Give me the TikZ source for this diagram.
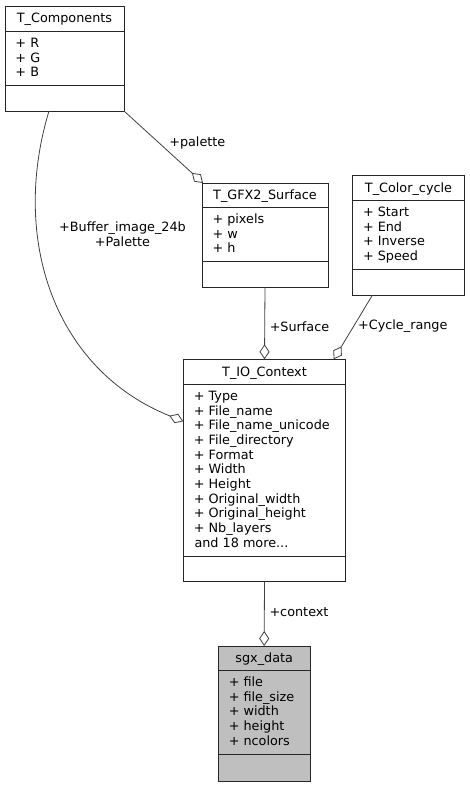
\documentclass[tikz,border=0pt]{standalone}
\usepackage{fontspec}
\setmainfont{DejaVu Sans}
\usetikzlibrary{arrows.meta}
\definecolor{edgegray}{HTML}{404040}
\definecolor{boxgray}{HTML}{BFBFBF}
\tikzset{
  cls/.style={draw=black!85, line width=1pt, anchor=north west, inner sep=0pt, outer sep=0pt},
  sepline/.style={draw=black!85, line width=1pt},
  txt/.style={font=\fontsize{12.8}{14.7}\selectfont, inner sep=0pt, text=black},
  title/.style={txt, anchor=base},
  mem/.style={txt, anchor=base west},
  lbl/.style={txt, align=center},
  assoc/.style={draw=edgegray, line width=0.8pt, -{Diamond[open, length=15pt, width=10pt]}}
}
\begin{document}
\begin{tikzpicture}[x=1pt, y=-1pt]
\useasboundingbox (0,0) rectangle (470,787);

% ---------- T_Components ----------
\node[cls, minimum width=119pt, minimum height=105pt] (comp) at (5,6) {};
\draw[sepline] (5,31) -- (124,31);
\draw[sepline] (5,85.6) -- (124,85.6);
\node[title] (comp-t) at (64.5,23) {T\_Components};
\foreach \t [count=\i from 0] in {+ R, + G, + B}
  \node[mem] (comp-m\i) at (15.3,47.3+\i*14.7) {\t};

% ---------- T_GFX2_Surface ----------
\node[cls, minimum width=126pt, minimum height=104pt] (gfx) at (202,183) {};
\draw[sepline] (202,207) -- (328,207);
\draw[sepline] (202,261.8) -- (328,261.8);
\node[title] (gfx-t) at (265,199.6) {T\_GFX2\_Surface};
\foreach \t [count=\i from 0] in {+ pixels, + w, + h}
  \node[mem] (gfx-m\i) at (212.3,223.3+\i*14.7) {\t};

% ---------- T_Color_cycle ----------
\node[cls, minimum width=112pt, minimum height=120pt] (color) at (352.5,175) {};
\draw[sepline] (352.5,200) -- (464.5,200);
\draw[sepline] (352.5,269.1) -- (464.5,269.1);
\node[title] (color-t) at (408.5,192.1) {T\_Color\_cycle};
\foreach \t [count=\i from 0] in {+ Start, + End, + Inverse, + Speed}
  \node[mem] (color-m\i) at (362.8,216.3+\i*14.7) {\t};

% ---------- T_IO_Context ----------
\node[cls, minimum width=162.4pt, minimum height=222.4pt] (io) at (183.3,359.3) {};
\draw[sepline] (183.3,384) -- (345.7,384);
\draw[sepline] (183.3,556) -- (345.7,556);
\node[title] (io-t) at (264.5,376.3) {T\_IO\_Context};
\foreach \t [count=\i from 0] in {+ Type, + File\_name, + File\_name\_unicode, + File\_directory, + Format, + Width, + Height, + Original\_width, + Original\_height, + Nb\_layers}
  \node[mem] (io-m\i) at (193.6,400.3+\i*14.7) {\t};
\node[mem] (io-more) at (194.3,547.3) {and 18 more...};

% ---------- sgx_data ----------
\node[cls, fill=boxgray, minimum width=91.7pt, minimum height=135.5pt] (sgx) at (218.3,646) {};
\draw[sepline] (218.3,670) -- (310,670);
\draw[sepline] (218.3,754) -- (310,754);
\node[title] (sgx-t) at (264.2,662.6) {sgx\_data};
\foreach \t [count=\i from 0] in {+ file, + file\_size, + width, + height, + ncolors}
  \node[mem] (sgx-m\i) at (228.6,686.3+\i*14.7) {\t};

% ---------- connectors ----------
\coordinate (bufstart) at ([xshift=44pt]comp.south west);
\coordinate (bufend) at ([yshift=-62pt]io.north west);
\draw[assoc] (bufstart) .. controls (10,240) and (55,370) .. (bufend);
\node[lbl] (buflbl) at (122.5,234.5) {+Buffer\_image\_24b\\+Palette};

\draw[assoc] (comp.south east) -- ([xshift=1pt]gfx.north west);
\node[lbl] (pallbl) at (197.3,142.7) {+palette};

\draw[assoc] (gfx.south) -- (io.north);
\node[lbl] (surflbl) at (299.5,326.5) {+Surface};

\draw[assoc] ([xshift=20pt]color.south west) -- ([xshift=-12pt]io.north east);
\node[lbl] (cyclbl) at (402.8,326) {+Cycle\_range};

\draw[assoc] (io.south) -- (sgx.north);
\node[lbl] (ctxlbl) at (299,612) {+context};
\end{tikzpicture}
\end{document}
